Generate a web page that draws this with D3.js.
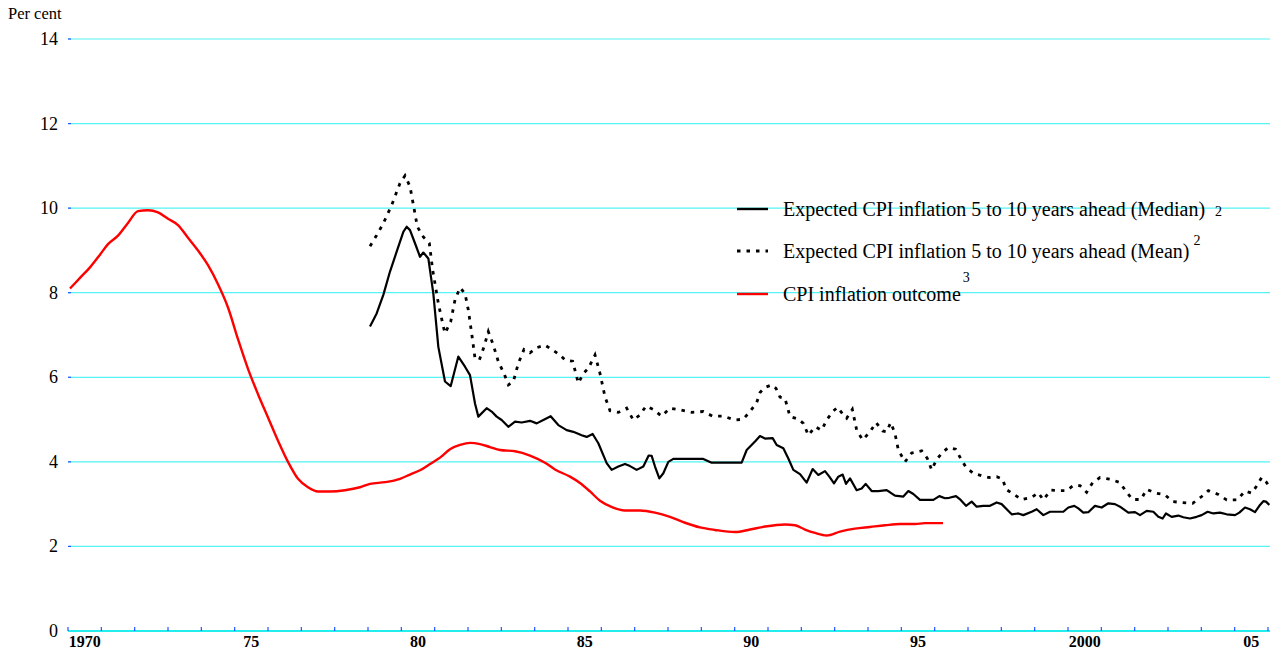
<!DOCTYPE html>
<html lang="en">
<head>
<meta charset="UTF-8">
<title>CPI inflation expectations</title>
<script src="https://d3js.org/d3.v7.min.js"></script>
<style>
  body { margin: 0; background: #fff; }
  svg text { font-family: "Liberation Serif", "Times New Roman", "DejaVu Serif", serif; fill: #000; }
  .ylab { font-size: 18px; }
  .xlab { font-size: 16px; font-weight: bold; }
  .leg { font-size: 20px; }
  .sup { font-size: 14px; }
</style>
</head>
<body>
<div id="chart"></div>
<script>
// CPI inflation outcome
const cpiYears = [1970.06,1970.36,1970.66,1970.96,1971.2,1971.5,1971.8,1972.1,1972.4,1972.7,1973.0,1973.3,1973.6,1973.9,1974.2,1974.5,1974.8,1975.1,1975.4,1975.7,1976.0,1976.3,1976.6,1976.9,1977.2,1977.5,1977.86,1978.31,1978.76,1979.06,1979.51,1979.96,1980.26,1980.56,1980.86,1981.16,1981.46,1981.76,1982.06,1982.36,1982.66,1982.96,1983.41,1983.86,1984.31,1984.61,1985.06,1985.36,1985.66,1985.96,1986.32,1986.71,1987.16,1987.61,1988.06,1988.51,1988.96,1989.41,1990.01,1990.46,1990.91,1991.51,1991.81,1992.11,1992.41,1992.76,1993.16,1993.61,1994.06,1994.51,1994.96,1995.41,1995.71,1996.25];
const cpiVals = [8.1,8.35,8.6,8.9,9.15,9.35,9.65,9.93,9.95,9.9,9.75,9.6,9.3,9.0,8.65,8.2,7.65,6.9,6.2,5.6,5.05,4.5,4.0,3.6,3.4,3.3,3.3,3.33,3.4,3.48,3.52,3.6,3.7,3.8,3.95,4.1,4.3,4.4,4.45,4.42,4.35,4.28,4.25,4.15,3.98,3.82,3.65,3.5,3.3,3.08,2.93,2.85,2.85,2.8,2.7,2.56,2.45,2.39,2.34,2.4,2.47,2.52,2.5,2.4,2.32,2.26,2.35,2.42,2.46,2.5,2.53,2.53,2.55,2.55];

// Expected CPI inflation 5 to 10 years ahead (median)
const medianYears = [1979.06,1979.26,1979.46,1979.66,1979.86,1980.06,1980.16,1980.26,1980.41,1980.56,1980.66,1980.81,1980.96,1981.11,1981.31,1981.48,1981.71,1981.91,1982.06,1982.21,1982.31,1982.56,1982.71,1982.86,1983.01,1983.21,1983.41,1983.61,1983.86,1984.06,1984.26,1984.48,1984.71,1984.96,1985.16,1985.41,1985.56,1985.74,1985.91,1986.16,1986.31,1986.51,1986.71,1986.86,1987.06,1987.26,1987.42,1987.51,1987.61,1987.74,1987.86,1988.01,1988.16,1989.06,1989.31,1990.21,1990.36,1990.61,1990.76,1990.91,1991.14,1991.26,1991.46,1991.61,1991.76,1991.96,1992.16,1992.34,1992.51,1992.71,1992.84,1992.98,1993.11,1993.24,1993.34,1993.46,1993.66,1993.81,1993.93,1994.11,1994.31,1994.56,1994.66,1994.81,1995.06,1995.21,1995.36,1995.56,1995.96,1996.14,1996.31,1996.44,1996.64,1996.78,1996.94,1997.11,1997.26,1997.46,1997.66,1997.86,1998.01,1998.31,1998.51,1998.66,1998.91,1999.06,1999.26,1999.46,1999.66,1999.86,2000.01,2000.19,2000.31,2000.46,2000.61,2000.81,2001.01,2001.21,2001.41,2001.56,2001.81,2002.01,2002.16,2002.36,2002.56,2002.71,2002.84,2002.94,2003.11,2003.31,2003.46,2003.66,2003.86,2004.01,2004.19,2004.36,2004.56,2004.76,2005.01,2005.14,2005.31,2005.46,2005.61,2005.74,2005.86,2005.94,2006.04];
const medianVals = [7.2,7.51,7.95,8.5,8.97,9.44,9.56,9.48,9.17,8.85,8.95,8.81,7.98,6.72,5.9,5.79,6.49,6.25,6.05,5.38,5.07,5.27,5.19,5.07,4.99,4.83,4.95,4.93,4.97,4.91,4.99,5.08,4.87,4.75,4.71,4.63,4.59,4.66,4.44,3.97,3.81,3.89,3.95,3.9,3.81,3.89,4.15,4.14,3.89,3.61,3.73,4.0,4.07,4.07,3.98,3.98,4.28,4.48,4.61,4.55,4.56,4.4,4.32,4.08,3.81,3.71,3.51,3.83,3.69,3.78,3.65,3.49,3.65,3.7,3.48,3.61,3.33,3.37,3.48,3.31,3.31,3.33,3.28,3.2,3.18,3.31,3.24,3.1,3.1,3.19,3.14,3.15,3.19,3.1,2.96,3.06,2.94,2.96,2.96,3.04,3.0,2.76,2.78,2.74,2.82,2.88,2.74,2.82,2.82,2.82,2.92,2.96,2.9,2.8,2.81,2.96,2.92,3.02,3.0,2.94,2.8,2.81,2.74,2.84,2.82,2.7,2.66,2.78,2.7,2.73,2.69,2.66,2.7,2.74,2.82,2.78,2.8,2.76,2.74,2.8,2.92,2.88,2.81,2.96,3.07,3.06,2.98];

// Expected CPI inflation 5 to 10 years ahead (mean)
const meanYears = [1979.06,1979.26,1979.46,1979.71,1979.96,1980.11,1980.26,1980.38,1980.48,1980.66,1980.84,1980.94,1981.11,1981.26,1981.31,1981.48,1981.61,1981.76,1981.91,1982.01,1982.11,1982.21,1982.34,1982.48,1982.61,1982.76,1982.91,1983.08,1983.21,1983.36,1983.51,1983.68,1983.86,1984.06,1984.31,1984.51,1984.74,1984.91,1985.14,1985.31,1985.46,1985.61,1985.81,1985.96,1986.11,1986.26,1986.51,1986.76,1986.96,1987.16,1987.34,1987.56,1987.81,1988.06,1988.36,1988.71,1989.06,1989.34,1989.66,1990.01,1990.26,1990.46,1990.66,1990.76,1990.91,1991.11,1991.24,1991.36,1991.51,1991.66,1991.91,1992.06,1992.21,1992.41,1992.61,1992.76,1992.94,1993.09,1993.26,1993.36,1993.53,1993.66,1993.84,1994.06,1994.24,1994.44,1994.56,1994.68,1994.81,1994.91,1995.11,1995.31,1995.61,1995.78,1995.91,1996.06,1996.26,1996.41,1996.63,1996.78,1996.94,1997.16,1997.41,1997.64,1997.86,1998.04,1998.14,1998.36,1998.61,1998.91,1999.11,1999.26,1999.48,1999.76,1999.96,2000.16,2000.36,2000.56,2000.74,2000.96,2001.26,2001.56,2001.74,2001.94,2002.19,2002.36,2002.64,2002.91,2003.14,2003.41,2003.74,2004.01,2004.21,2004.51,2004.76,2005.08,2005.31,2005.51,2005.66,2005.81,2005.94,2006.04];
const meanVals = [9.1,9.36,9.64,10.07,10.59,10.77,10.51,10.0,9.56,9.32,9.17,8.54,7.75,7.2,7.04,7.31,7.83,8.12,7.98,7.59,7.04,6.45,6.41,6.72,7.08,6.76,6.37,6.09,5.82,5.9,6.33,6.66,6.58,6.7,6.76,6.66,6.54,6.41,6.38,5.86,6.09,6.21,6.53,6.09,5.54,5.21,5.17,5.27,4.99,5.11,5.32,5.24,5.08,5.27,5.23,5.17,5.19,5.08,5.08,4.99,5.01,5.19,5.4,5.64,5.76,5.82,5.74,5.53,5.5,5.07,5.01,4.91,4.63,4.83,4.75,4.99,5.19,5.29,5.11,5.03,5.24,4.75,4.52,4.71,4.93,4.73,4.71,4.93,4.67,4.28,4.0,4.21,4.26,4.08,3.81,4.06,4.24,4.34,4.3,4.08,3.87,3.73,3.67,3.63,3.65,3.59,3.35,3.24,3.11,3.16,3.27,3.1,3.33,3.32,3.32,3.44,3.44,3.28,3.51,3.63,3.59,3.51,3.3,3.11,3.11,3.35,3.26,3.22,3.06,3.04,3.02,3.18,3.32,3.23,3.1,3.1,3.31,3.26,3.43,3.63,3.53,3.41];

const yTicks = [0, 2, 4, 6, 8, 10, 12, 14];
const xLabelYears = [1970, 1975, 1980, 1985, 1990, 1995, 2000, 2005];
const xLabels = ["1970", "75", "80", "85", "90", "95", "2000", "05"];

const W = 1270, H = 652;
const svg = d3.select("#chart").append("svg").attr("width", W).attr("height", H);

const x = d3.scaleLinear().domain([1970, 2006.06]).range([68, 1270]);
const y = d3.scaleLinear().domain([0, 14]).range([631, 39]);

// grid lines
svg.append("g").selectAll("line")
  .data(yTicks.filter(d => d > 0))
  .enter().append("line")
  .attr("x1", x(1970)).attr("x2", W)
  .attr("y1", d => y(d)).attr("y2", d => y(d))
  .attr("stroke", "#55f3f3").attr("stroke-width", 1.2);

// y tick marks and labels
svg.append("g").selectAll("line")
  .data(yTicks)
  .enter().append("line")
  .attr("x1", x(1970)).attr("x2", x(1970) + 3)
  .attr("y1", d => y(d)).attr("y2", d => y(d))
  .attr("stroke", "#2255ff").attr("stroke-width", 1.2);

svg.append("g").selectAll("text")
  .data(yTicks)
  .enter().append("text")
  .attr("class", "ylab")
  .attr("x", 58).attr("y", d => y(d) + 6)
  .attr("text-anchor", "end")
  .text(d => d);

svg.append("text").attr("class", "ylab")
  .attr("x", 8).attr("y", 19).style("font-size", "16.5px")
  .text("Per cent");

// x axis
svg.append("line")
  .attr("x1", x(1970)).attr("x2", W)
  .attr("y1", y(0)).attr("y2", y(0))
  .attr("stroke", "#22eeee").attr("stroke-width", 2);

svg.append("g").selectAll("line")
  .data(d3.range(1970, 2007))
  .enter().append("line")
  .attr("x1", d => x(d)).attr("x2", d => x(d))
  .attr("y1", y(0) - 4).attr("y2", y(0))
  .attr("stroke", "#2255ff").attr("stroke-width", 1.2);

svg.append("g").selectAll("text")
  .data(xLabelYears)
  .enter().append("text")
  .attr("class", "xlab")
  .attr("x", d => x(d + 0.5)).attr("y", 647)
  .attr("text-anchor", "middle")
  .text((d, i) => xLabels[i]);

// series lines
const line = d3.line().x(d => x(d[0])).y(d => y(d[1]));
const zip = (a, b) => a.map((v, i) => [v, b[i]]);

svg.append("path").datum(zip(cpiYears, cpiVals))
  .attr("d", line.curve(d3.curveMonotoneX)).attr("fill", "none")
  .attr("stroke", "#ff0000").attr("stroke-width", 2.4)
  .attr("stroke-linejoin", "round");
line.curve(d3.curveLinear);

svg.append("path").datum(zip(meanYears, meanVals))
  .attr("d", line).attr("fill", "none")
  .attr("stroke", "#000").attr("stroke-width", 2.8)
  .attr("stroke-dasharray", "3.5,6");

svg.append("path").datum(zip(medianYears, medianVals))
  .attr("d", line).attr("fill", "none")
  .attr("stroke", "#000").attr("stroke-width", 2.2)
  .attr("stroke-linejoin", "round");

// legend
const legend = [
  {text: "Expected CPI inflation 5 to 10 years ahead (Median)", sup: "2", color: "#000", dash: null, y: 209, supDx: 10, supDy: 7},
  {text: "Expected CPI inflation 5 to 10 years ahead (Mean)", sup: "2", color: "#000", dash: "3.5,6", y: 251, supDx: 4, supDy: -6},
  {text: "CPI inflation outcome", sup: "3", color: "#ff0000", dash: null, y: 294, supDx: 2, supDy: -12}
];
const lg = svg.append("g");
legend.forEach(d => {
  lg.append("line")
    .attr("x1", 737).attr("x2", 768)
    .attr("y1", d.y).attr("y2", d.y)
    .attr("stroke", d.color).attr("stroke-width", d.dash ? 2.8 : 2.4)
    .attr("stroke-dasharray", d.dash);
  const t = lg.append("text").attr("class", "leg")
    .attr("x", 783).attr("y", d.y + 7)
    .text(d.text);
  const w = t.node().getComputedTextLength();
  lg.append("text").attr("class", "sup")
    .attr("x", 783 + w + d.supDx).attr("y", d.y + d.supDy)
    .text(d.sup);
});
</script>
</body>
</html>
